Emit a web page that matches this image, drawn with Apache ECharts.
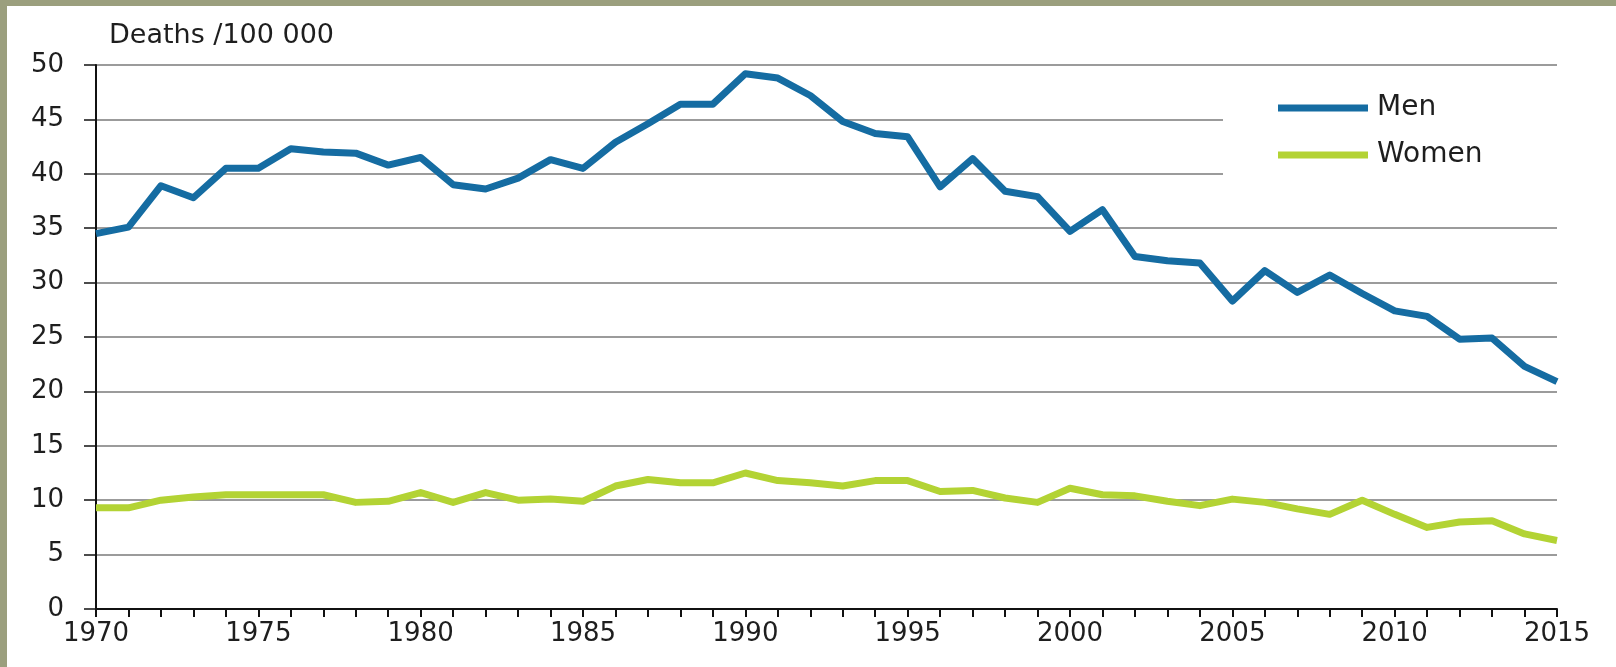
<!DOCTYPE html>
<html>
<head>
<meta charset="utf-8">
<script src="https://cdn.jsdelivr.net/npm/echarts@6/dist/echarts.min.js"></script>
<style>
html,body{margin:0;padding:0;background:#fff;}
#chart{width:1616px;height:667px;}
</style>
</head>
<body>
<div id="chart"></div>
<script>
const years = [];
for (let y = 1970; y <= 2015; y++) years.push(String(y));

const men = [34.5, 35.1, 38.9, 37.8, 40.5, 40.5, 42.3, 42.0, 41.9, 40.8,
             41.5, 39.0, 38.6, 39.6, 41.3, 40.5, 42.9, 44.6, 46.4, 46.4,
             49.2, 48.8, 47.2, 44.8, 43.7, 43.4, 38.8, 41.4, 38.4, 37.9,
             34.7, 36.7, 32.4, 32.0, 31.8, 28.3, 31.1, 29.1, 30.7, 29.0,
             27.4, 26.9, 24.8, 24.9, 22.3, 20.9];

const women = [9.3, 9.3, 10.0, 10.3, 10.5, 10.5, 10.5, 10.5, 9.8, 9.9,
               10.7, 9.8, 10.7, 10.0, 10.1, 9.9, 11.3, 11.9, 11.6, 11.6,
               12.5, 11.8, 11.6, 11.3, 11.8, 11.8, 10.8, 10.9, 10.2, 9.8,
               11.1, 10.5, 10.4, 9.9, 9.5, 10.1, 9.8, 9.2, 8.7, 10.0,
               8.7, 7.5, 8.0, 8.1, 6.9, 6.3];

const seriesNames = ['Men', 'Women'];
const yTitle = 'Deaths /100 000';

const FONT = 'DejaVu Sans';
const chart = echarts.init(document.getElementById('chart'));
chart.setOption({
  animation: false,
  backgroundColor: '#ffffff',
  grid: { left: 96, top: 65, right: 59, bottom: 58, containLabel: false },
  title: {
    text: yTitle, left: 104, top: 17,
    textStyle: { fontFamily: FONT, fontSize: 27, fontWeight: 'normal', color: '#1e1e1e' }
  },
  legend: {
    orient: 'vertical', left: 1273, top: 89,
    itemWidth: 90, itemHeight: 7, itemGap: 19, icon: 'rect',
    data: seriesNames,
    textStyle: { fontFamily: FONT, fontSize: 28, color: '#1e1e1e', padding: [0, 0, 0, 4] }
  },
  graphic: [
    { type: 'rect', z: 1, silent: true, shape: { x: 1223, y: 110, width: 340, height: 75 }, style: { fill: '#ffffff' } },
    { type: 'rect', z: 100, silent: true, shape: { x: 0, y: 0, width: 7, height: 667 }, style: { fill: '#9b9f7e' } },
    { type: 'rect', z: 100, silent: true, shape: { x: 0, y: 0, width: 1616, height: 6 }, style: { fill: '#9b9f7e' } }
  ],
  xAxis: {
    type: 'category', data: years, boundaryGap: false,
    axisLine: { lineStyle: { color: '#111', width: 2 } },
    axisTick: { show: true, interval: 0, length: 8, lineStyle: { color: '#111', width: 2 } },
    axisLabel: { interval: 4, margin: 12, fontFamily: FONT, fontSize: 26, color: '#1e1e1e' },
    splitLine: { show: false }
  },
  yAxis: {
    type: 'value', min: 0, max: 50, interval: 5,
    axisLine: { show: true, lineStyle: { color: '#111', width: 2 } },
    axisTick: { show: true, length: 12, lineStyle: { color: '#111', width: 1.5 } },
    axisLabel: { margin: 32, fontFamily: FONT, fontSize: 26, color: '#1e1e1e' },
    splitLine: { show: true, lineStyle: { color: '#7a7a7a', width: 1.5 } }
  },
  series: [
    { name: seriesNames[0], type: 'line', data: men, showSymbol: false, symbol: 'none', z: 3,
      lineStyle: { color: '#156ca2', width: 7, join: 'round' }, itemStyle: { color: '#156ca2' } },
    { name: seriesNames[1], type: 'line', data: women, showSymbol: false, symbol: 'none', z: 2,
      lineStyle: { color: '#b3d334', width: 7, join: 'round' }, itemStyle: { color: '#b3d334' } }
  ]
});
</script>
</body>
</html>
